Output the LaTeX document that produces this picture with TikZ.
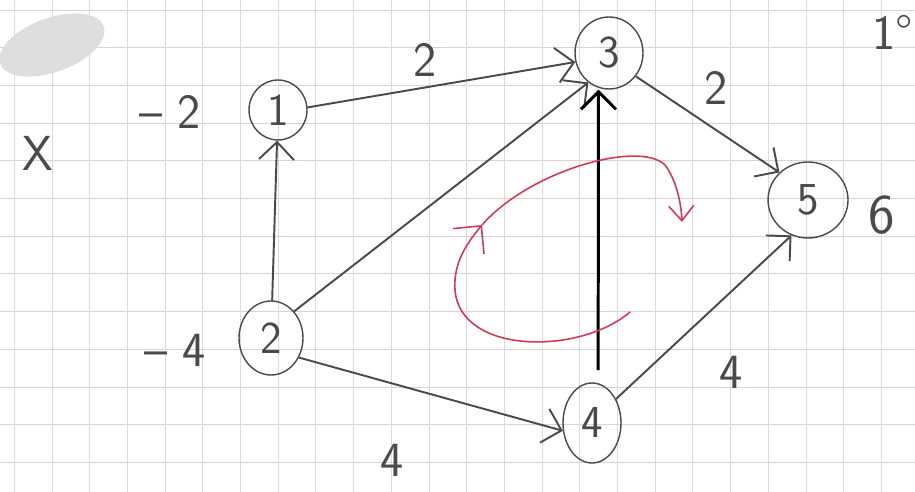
\documentclass[tikz,border=0pt]{standalone}
\usepackage{tikz}
\usetikzlibrary{arrows.meta,shapes.geometric}
\definecolor{pencilGray}{HTML}{4A4A4A}
\definecolor{loopRed}{HTML}{D23A55}
\definecolor{gridGray}{HTML}{DCDCDC}
\definecolor{gridRose}{HTML}{DDD2D0}

\begin{document}
\begin{tikzpicture}[x=0.02cm, y=-0.02cm,
    vertex/.style={draw=pencilGray, line width=0.8pt, ellipse, inner sep=0pt, text=pencilGray, font=\sffamily\fontsize{26}{26}\selectfont},
    edge/.style={draw=pencilGray, line width=1.1pt, -{Straight Barb[length=3.5mm,width=7mm]}},
    lbl/.style={text=pencilGray, font=\sffamily\fontsize{28}{28}\selectfont}]
    \useasboundingbox (0,0) rectangle (915,492);
    \fill[white] (0,0) rectangle (915,492);
    \foreach \i in {0,...,24} \draw[gridGray, line width=0.5pt] ({14.3+37.7*\i},0) -- ({14.3+37.7*\i},492);
    \foreach \j in {0,...,13} \draw[gridRose, line width=0.5pt] (0,{10+37.7*\j}) -- (915,{10+37.7*\j});
    \fill[black!13, rotate around={20:(52,45)}] (52,45) ellipse (55 and 27);
    \node[vertex, minimum width=1.16cm, minimum height=1.2cm] (v1) at (278,110) {1};
    \node[vertex, minimum width=1.28cm, minimum height=1.48cm] (v2) at (271,338) {2};
    \node[vertex, minimum width=1.36cm, minimum height=1.44cm] (v3) at (609,53) {3};
    \node[vertex, minimum width=1.16cm, minimum height=1.6cm] (v4) at (592,423) {4};
    \node[vertex, minimum width=1.6cm, minimum height=1.52cm] (v5) at (808,200) {5};
    \draw[edge] (v2) -- (v1);
    \draw[edge] (v1.5) -- (v3.195);
    \draw[edge] (v2.49) -- (v3.235);
    \draw[edge, draw=black, line width=1.7pt] ([xshift=3.5pt,yshift=7pt]v4.north) -- ([xshift=-6pt]v3.south);
    \draw[edge] (v3.-41) -- (v5.136);
    \draw[edge] (v2.-35) -- (v4.195);
    \draw[edge] (v4.45) -- (v5.245);
    \node[lbl] (w13) at (425,60) {2};
    \node[lbl] (w35) at (716,88) {2};
    \node[lbl] (w24) at (392,460) {4};
    \node[lbl] (w45) at (731,372) {4};
    \node[lbl] (mx) at (38,153) {X};
    \node[lbl] (p1) at (170,112) {\textendash\ 2};
    \node[lbl] (p2) at (175,350) {\textendash\ 4};
    \node[lbl, font=\sffamily\fontsize{32}{32}\selectfont] (p5) at (882,215) {6};
    \node[lbl, anchor=west] (deg) at (866,32) {1\textdegree};
    \coordinate (r0) at (630,312);
    \coordinate (r1) at (482,225);
    \coordinate (r2) at (682,222);
    \draw[loopRed, line width=0.9pt, -{Straight Barb[length=4mm,width=8mm]}] (r0) .. controls (580,355) and (460,355) .. (455,290) .. controls (453,262) and (468,242) .. (r1);
    \draw[loopRed, line width=0.9pt, -{Straight Barb[length=3mm,width=5mm]}] (r1) .. controls (530,170) and (640,140) .. (665,165) .. controls (675,178) and (681,200) .. (r2);
\end{tikzpicture}
\end{document}
